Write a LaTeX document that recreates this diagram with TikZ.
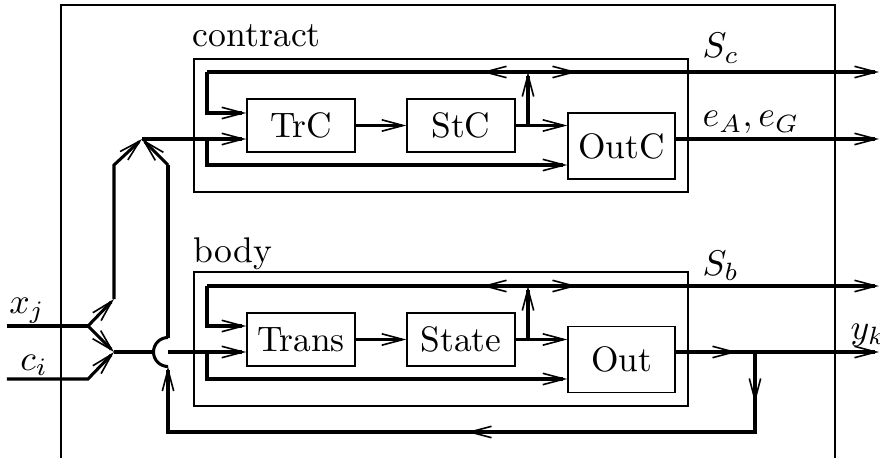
\documentclass[tikz,border=0pt]{standalone}
\usepackage{amsmath}
\usetikzlibrary{arrows.meta}
\pgfmathsetmacro{\pxunit}{0.28}
\pgfmathsetmacro{\blockwd}{108*\pxunit}
\pgfmathsetmacro{\blockht}{53*\pxunit}
\pgfmathsetmacro{\outwd}{107*\pxunit}
\pgfmathsetmacro{\outht}{66*\pxunit}
\tikzset{
  block/.style={draw, line width=0.4pt, inner sep=0pt,
    minimum width=\blockwd pt, minimum height=\blockht pt,
    font=\fontsize{9.9}{11}\selectfont},
  outblock/.style={block, minimum width=\outwd pt, minimum height=\outht pt},
  boxframe/.style={draw, line width=0.4pt},
  signal/.style={line width=0.85pt},
  flow/.style={signal, -{Straight Barb[length=6pt,width=3.2pt,line width=0.45pt]}},
  lbl/.style={font=\fontsize{10}{12}\selectfont, inner sep=0pt},
}

\begin{document}
\begin{tikzpicture}[x=\pxunit pt, y=-\pxunit pt]
    \useasboundingbox (0,0) rectangle (880,458);
    % outer frame
    \draw[boxframe] (61,458) -- (61,5) -- (835,5) -- (835,458);
    % define blocks
    % contract
    \draw[boxframe] (194,59) rectangle (688,192);
    \node[lbl, anchor=base west] (contract) at (192,46) {contract};
    \node[block] (TrC) at (301,125.5) {TrC};
    \node[block] (StC) at (461,125.5) {StC};
    \node[outblock] (OutC) at (621.5,146) {OutC};
    % body
    \draw[boxframe] (194,272) rectangle (688,406);
    \node[lbl, anchor=base west] (body) at (193,263) {body};
    \node[block] (Trans) at (301,339.5) {Trans};
    \node[block] (State) at (461,339.5) {State};
    \node[outblock] (Out) at (621.5,359.5) {Out};
    % define points
    % inputs
    \coordinate (xin) at (7,326);
    \coordinate (xfork) at (88,326);
    \coordinate (xup) at (114,299);
    \coordinate (xtop) at (114,165);
    \coordinate (ciin) at (7,379);
    \coordinate (cibend) at (88,379);
    % contract
    \coordinate (cjoin) at (142,139);
    \coordinate (cfork) at (207,139);
    \coordinate (cbot) at (207,165);
    \coordinate (ctl) at (207,72);
    \coordinate (cin) at (207,113);
    \coordinate (ctap) at (528,125.5);
    \coordinate (ctop) at (528,72);
    \coordinate (cmidl) at (482,72);
    \coordinate (cmidr) at (577,72);
    \coordinate (Sc) at (879,72);
    \coordinate (eAG) at (879,139);
    % body
    \coordinate (bjoin) at (114,352);
    \coordinate (hopl) at (153.5,352);
    \coordinate (hopr) at (168,352);
    \coordinate (bfork) at (207,352);
    \coordinate (bbot) at (207,379);
    \coordinate (btl) at (207,286);
    \coordinate (bin) at (207,326);
    \coordinate (btap) at (528,339.5);
    \coordinate (btop) at (528,286);
    \coordinate (bmidl) at (482,286);
    \coordinate (bmidr) at (577,286);
    \coordinate (Sb) at (879,286);
    \coordinate (yk) at (879,352);
    \coordinate (ymid) at (737,352);
    % feedback
    \coordinate (yfork) at (755,352);
    \coordinate (fbmid) at (755,403);
    \coordinate (fbcorner) at (755,432);
    \coordinate (fbmidl) at (467,432);
    \coordinate (fbleft) at (168,432);
    \coordinate (hopbot) at (168,366.5);
    \coordinate (hoptop) at (168,337.5);
    \coordinate (fbup) at (168,165);
    % draw inputs
    \draw[signal] (xin) -- (xfork);
    \draw[flow] (xfork) -- (xup);
    \draw[flow] (xfork) -- (bjoin);
    \draw[flow] (ciin) -- (cibend) -- (bjoin);
    \draw[flow] (xup) -- (xtop) -- (cjoin);
    \draw[signal] (bjoin) -- (hopl);
    % draw contract
    \draw[flow] (cjoin) -- (cjoin -| TrC.west);
    \draw[flow] (cfork) -- (cbot) -- (cbot -| OutC.west);
    \draw[flow] (TrC.east) -- (StC.west);
    \draw[flow] (StC.east) -- (StC.east -| OutC.west);
    \draw[flow] (ctap) -- (ctop);
    \draw[flow] (ctl) -- (cin) -- (cin -| TrC.west);
    \draw[flow] (ctl) -- (Sc);
    \draw[flow] (ctop) -- (cmidl);
    \draw[flow] (ctop) -- (cmidr);
    \draw[flow] (eAG -| OutC.east) -- (eAG);
    % draw body
    \draw[flow] (hopr) -- (hopr -| Trans.west);
    \draw[flow] (bfork) -- (bbot) -- (bbot -| Out.west);
    \draw[flow] (Trans.east) -- (State.west);
    \draw[flow] (State.east) -- (State.east -| Out.west);
    \draw[flow] (btap) -- (btop);
    \draw[flow] (btl) -- (bin) -- (bin -| Trans.west);
    \draw[flow] (btl) -- (Sb);
    \draw[flow] (btop) -- (bmidl);
    \draw[flow] (btop) -- (bmidr);
    \draw[flow] (yk -| Out.east) -- (yk);
    \draw[flow] (yk -| Out.east) -- (ymid);
    % draw feedback with a hop over the input line
    \draw[flow] (yfork) -- (fbcorner) -- (fbleft) -- (hopbot);
    \draw[flow] (yfork) -- (fbmid);
    \draw[flow] (fbcorner) -- (fbmidl);
    \draw[signal] (hopbot) arc[start angle=90, end angle=270, radius=14.5];
    \draw[signal] (hoptop) -- (fbup);
    \draw[flow] (fbup) -- (cjoin);
    % add labels
    \node[lbl, anchor=base] (xjlbl) at (27,313) {$x_j$};
    \node[lbl, anchor=base] (cilbl) at (34,370) {$c_i$};
    \node[lbl, anchor=base west] (Sclbl) at (702,58) {$S_c$};
    \node[lbl, anchor=base west] (eAGlbl) at (702,127) {$e_A,e_G$};
    \node[lbl, anchor=base west] (Sblbl) at (702,275) {$S_b$};
    \node[lbl, anchor=base west] (yklbl) at (850,339) {$y_k$};
\end{tikzpicture}
\end{document}
